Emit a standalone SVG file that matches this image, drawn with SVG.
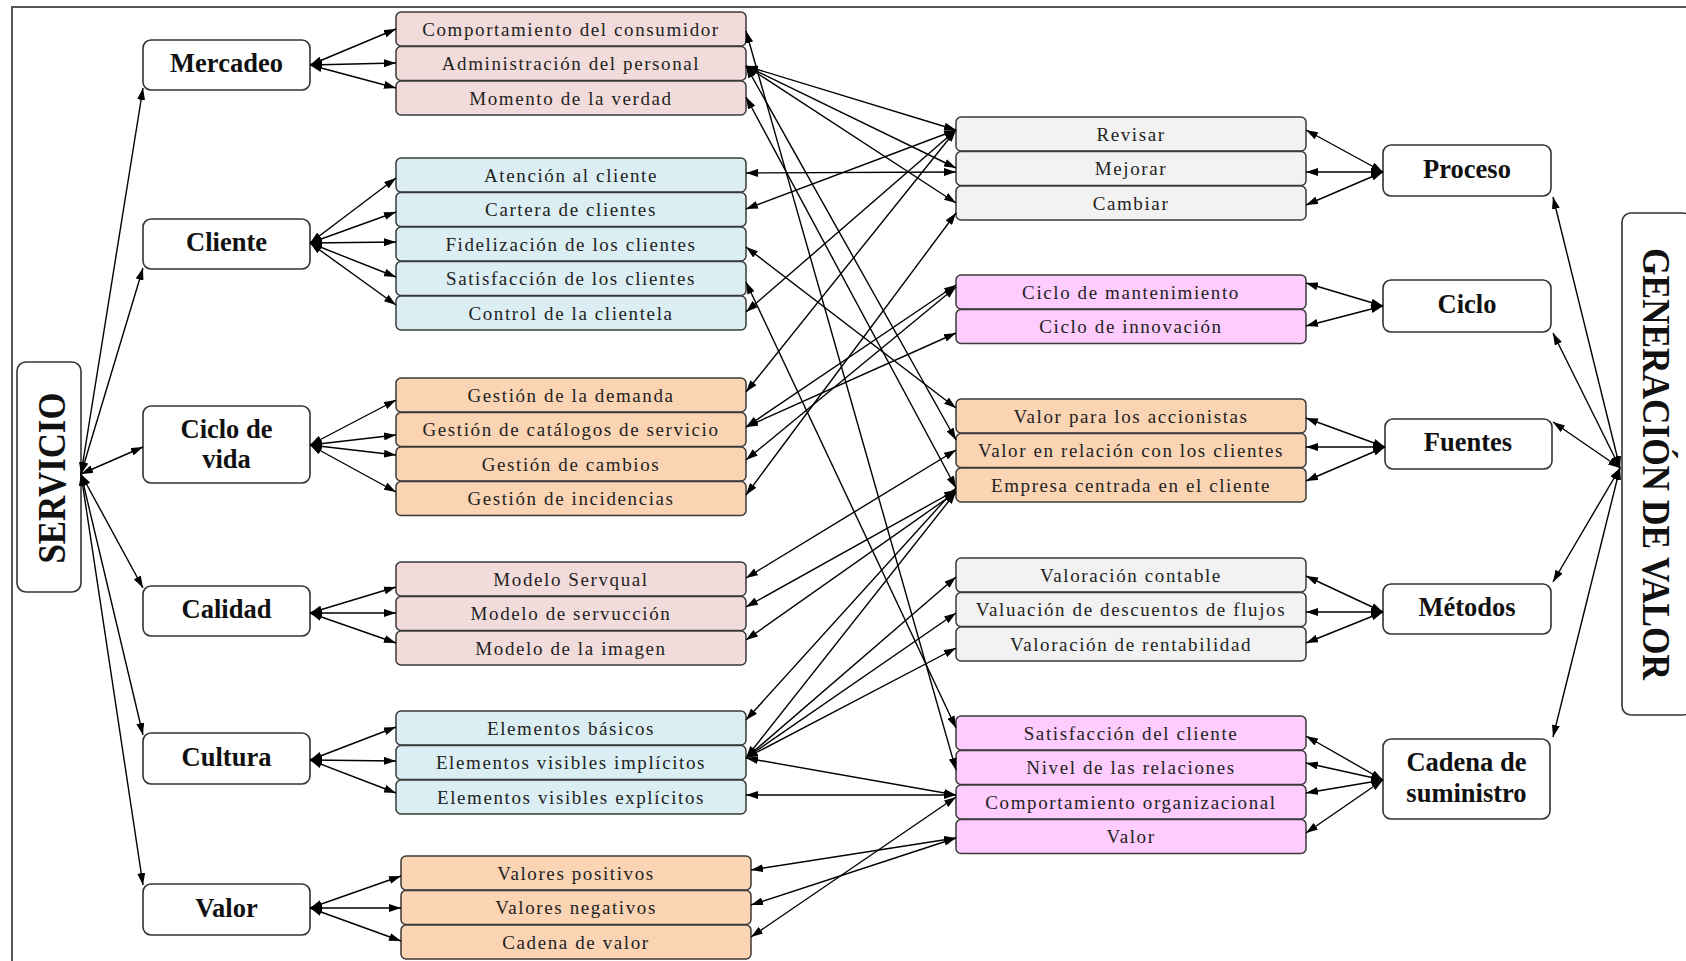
<svg xmlns="http://www.w3.org/2000/svg" width="1686" height="961" viewBox="0 0 1686 961">
  <style>
    .frame { fill: none; stroke: #555; stroke-width: 2; }
    .main { fill: #fff; stroke: #333; stroke-width: 1.6; }
    .row { stroke: #3a3a3a; stroke-width: 1.5; }
    .pink { fill: #f2dcdb; }
    .blue { fill: #daeef3; }
    .orange { fill: #fbd4b4; }
    .gray { fill: #f2f2f2; }
    .mag { fill: #ffccff; }
    .lbl { font-family: "Liberation Serif", "Times New Roman", serif; font-size: 19px; letter-spacing: 1.6px; fill: #222; text-anchor: middle; }
    .head { font-family: "Liberation Serif", "Times New Roman", serif; font-size: 26.5px; font-weight: bold; fill: #111; text-anchor: middle; }
    .big { font-family: "Liberation Serif", "Times New Roman", serif; font-size: 40px; font-weight: bold; fill: #111; text-anchor: middle; }
    .links line { stroke: #000; stroke-width: 1.4; marker-start: url(#ah); marker-end: url(#ah); }
  </style>
  <defs>
    <marker id="ah" viewBox="0 0 12 8" refX="12" refY="4" markerWidth="12" markerHeight="8" markerUnits="userSpaceOnUse" orient="auto-start-reverse">
      <path d="M0,0 L12,4 L0,8 z" fill="#000"/>
    </marker>
  </defs>

  <rect class="frame" x="12" y="7" width="1700" height="1000"/>

  <!-- outer blocks -->
  <g id="servicio">
    <rect class="main" x="17" y="362" width="64" height="230" rx="9"/>
    <text class="big" transform="translate(65,478) rotate(-90)" textLength="171" lengthAdjust="spacingAndGlyphs">SERVICIO</text>
  </g>
  <g id="generacion">
    <rect class="main" x="1622" y="213" width="70" height="502" rx="9"/>
    <text class="big" transform="translate(1643,464) rotate(90)" textLength="432" lengthAdjust="spacingAndGlyphs">GENERACIÓN DE VALOR</text>
  </g>

  <!-- service dimensions -->
  <g id="mercadeo"><rect class="main" x="143" y="40" width="167" height="50" rx="8"/><text class="head" x="226.5" y="72">Mercadeo</text></g>
  <g id="cliente"><rect class="main" x="143" y="219" width="167" height="50" rx="8"/><text class="head" x="226.5" y="251">Cliente</text></g>
  <g id="ciclo-vida"><rect class="main" x="143" y="406" width="167" height="77" rx="8"/><text class="head" x="226.5" y="438">Ciclo de</text><text class="head" x="226.5" y="468">vida</text></g>
  <g id="calidad"><rect class="main" x="143" y="586" width="167" height="50" rx="8"/><text class="head" x="226.5" y="618">Calidad</text></g>
  <g id="cultura"><rect class="main" x="143" y="733" width="167" height="51" rx="8"/><text class="head" x="226.5" y="766">Cultura</text></g>
  <g id="valor"><rect class="main" x="143" y="884" width="167" height="51" rx="8"/><text class="head" x="226.5" y="917">Valor</text></g>

  <!-- value dimensions -->
  <g id="proceso"><rect class="main" x="1383" y="145" width="168" height="51" rx="8"/><text class="head" x="1467" y="178">Proceso</text></g>
  <g id="ciclo"><rect class="main" x="1383" y="280" width="168" height="52" rx="8"/><text class="head" x="1467" y="313">Ciclo</text></g>
  <g id="fuentes"><rect class="main" x="1385" y="419" width="167" height="50" rx="8"/><text class="head" x="1468" y="451">Fuentes</text></g>
  <g id="metodos"><rect class="main" x="1383" y="584" width="168" height="50" rx="8"/><text class="head" x="1467" y="616">Métodos</text></g>
  <g id="cadena"><rect class="main" x="1383" y="739" width="167" height="80" rx="8"/><text class="head" x="1466.5" y="771">Cadena de</text><text class="head" x="1466.5" y="802">suministro</text></g>

  <!-- Mercadeo items -->
  <g id="m-items">
    <rect class="row pink" x="396" y="12" width="350" height="34" rx="5"/><text class="lbl" x="571" y="35.5">Comportamiento del consumidor</text>
    <rect class="row pink" x="396" y="46.5" width="350" height="34" rx="5"/><text class="lbl" x="571" y="70">Administración del personal</text>
    <rect class="row pink" x="396" y="81" width="350" height="34" rx="5"/><text class="lbl" x="571" y="104.5">Momento de la verdad</text>
  </g>
  <!-- Cliente items -->
  <g id="c-items">
    <rect class="row blue" x="396" y="158" width="350" height="34" rx="5"/><text class="lbl" x="571" y="181.5">Atención al cliente</text>
    <rect class="row blue" x="396" y="192.5" width="350" height="34" rx="5"/><text class="lbl" x="571" y="216">Cartera de clientes</text>
    <rect class="row blue" x="396" y="227" width="350" height="34" rx="5"/><text class="lbl" x="571" y="250.5">Fidelización de los clientes</text>
    <rect class="row blue" x="396" y="261.5" width="350" height="34" rx="5"/><text class="lbl" x="571" y="285">Satisfacción de los clientes</text>
    <rect class="row blue" x="396" y="296" width="350" height="34" rx="5"/><text class="lbl" x="571" y="319.5">Control de la clientela</text>
  </g>
  <!-- Ciclo de vida items -->
  <g id="cv-items">
    <rect class="row orange" x="396" y="378" width="350" height="34" rx="5"/><text class="lbl" x="571" y="401.5">Gestión de la demanda</text>
    <rect class="row orange" x="396" y="412.5" width="350" height="34" rx="5"/><text class="lbl" x="571" y="436">Gestión de catálogos de servicio</text>
    <rect class="row orange" x="396" y="447" width="350" height="34" rx="5"/><text class="lbl" x="571" y="470.5">Gestión de cambios</text>
    <rect class="row orange" x="396" y="481.5" width="350" height="34" rx="5"/><text class="lbl" x="571" y="505">Gestión de incidencias</text>
  </g>
  <!-- Calidad items -->
  <g id="ca-items">
    <rect class="row pink" x="396" y="562" width="350" height="34" rx="5"/><text class="lbl" x="571" y="585.5">Modelo Servqual</text>
    <rect class="row pink" x="396" y="596.5" width="350" height="34" rx="5"/><text class="lbl" x="571" y="620">Modelo de servucción</text>
    <rect class="row pink" x="396" y="631" width="350" height="34" rx="5"/><text class="lbl" x="571" y="654.5">Modelo de la imagen</text>
  </g>
  <!-- Cultura items -->
  <g id="cu-items">
    <rect class="row blue" x="396" y="711" width="350" height="34" rx="5"/><text class="lbl" x="571" y="734.5">Elementos básicos</text>
    <rect class="row blue" x="396" y="745.5" width="350" height="34" rx="5"/><text class="lbl" x="571" y="769">Elementos visibles implícitos</text>
    <rect class="row blue" x="396" y="780" width="350" height="34" rx="5"/><text class="lbl" x="571" y="803.5">Elementos visibles explícitos</text>
  </g>
  <!-- Valor items -->
  <g id="v-items">
    <rect class="row orange" x="401" y="856" width="350" height="34" rx="5"/><text class="lbl" x="576" y="879.5">Valores positivos</text>
    <rect class="row orange" x="401" y="890.5" width="350" height="34" rx="5"/><text class="lbl" x="576" y="914">Valores negativos</text>
    <rect class="row orange" x="401" y="925" width="350" height="34" rx="5"/><text class="lbl" x="576" y="948.5">Cadena de valor</text>
  </g>

  <!-- Proceso items -->
  <g id="p-items">
    <rect class="row gray" x="956" y="117" width="350" height="34" rx="5"/><text class="lbl" x="1131" y="140.5">Revisar</text>
    <rect class="row gray" x="956" y="151.5" width="350" height="34" rx="5"/><text class="lbl" x="1131" y="175">Mejorar</text>
    <rect class="row gray" x="956" y="186" width="350" height="34" rx="5"/><text class="lbl" x="1131" y="209.5">Cambiar</text>
  </g>
  <!-- Ciclo items -->
  <g id="ci-items">
    <rect class="row mag" x="956" y="275" width="350" height="34" rx="5"/><text class="lbl" x="1131" y="298.5">Ciclo de mantenimiento</text>
    <rect class="row mag" x="956" y="309.5" width="350" height="34" rx="5"/><text class="lbl" x="1131" y="333">Ciclo de innovación</text>
  </g>
  <!-- Fuentes items -->
  <g id="f-items">
    <rect class="row orange" x="956" y="399" width="350" height="34" rx="5"/><text class="lbl" x="1131" y="422.5">Valor para los accionistas</text>
    <rect class="row orange" x="956" y="433.5" width="350" height="34" rx="5"/><text class="lbl" x="1131" y="457">Valor en relación con los clientes</text>
    <rect class="row orange" x="956" y="468" width="350" height="34" rx="5"/><text class="lbl" x="1131" y="491.5">Empresa centrada en el cliente</text>
  </g>
  <!-- Métodos items -->
  <g id="me-items">
    <rect class="row gray" x="956" y="558" width="350" height="34" rx="5"/><text class="lbl" x="1131" y="581.5">Valoración contable</text>
    <rect class="row gray" x="956" y="592.5" width="350" height="34" rx="5"/><text class="lbl" x="1131" y="616">Valuación de descuentos de flujos</text>
    <rect class="row gray" x="956" y="627" width="350" height="34" rx="5"/><text class="lbl" x="1131" y="650.5">Valoración de rentabilidad</text>
  </g>
  <!-- Cadena de suministro items -->
  <g id="cs-items">
    <rect class="row mag" x="956" y="716" width="350" height="34" rx="5"/><text class="lbl" x="1131" y="739.5">Satisfacción del cliente</text>
    <rect class="row mag" x="956" y="750.5" width="350" height="34" rx="5"/><text class="lbl" x="1131" y="774">Nivel de las relaciones</text>
    <rect class="row mag" x="956" y="785" width="350" height="34" rx="5"/><text class="lbl" x="1131" y="808.5">Comportamiento organizacional</text>
    <rect class="row mag" x="956" y="819.5" width="350" height="34" rx="5"/><text class="lbl" x="1131" y="843">Valor</text>
  </g>

  <!-- connectors -->
  <g class="links" id="connectors">
    <!-- SERVICIO to its dimensions -->
    <line x1="81" y1="474" x2="143" y2="88"/>
    <line x1="81" y1="474" x2="143" y2="268"/>
    <line x1="81" y1="474" x2="143" y2="447"/>
    <line x1="81" y1="474" x2="143" y2="588"/>
    <line x1="81" y1="474" x2="143" y2="735"/>
    <line x1="81" y1="474" x2="143" y2="885"/>
    <!-- dimensions to items -->
    <line x1="310" y1="65" x2="396" y2="29"/>
    <line x1="310" y1="65" x2="396" y2="63"/>
    <line x1="310" y1="65" x2="396" y2="88"/>
    <line x1="310" y1="243" x2="396" y2="178"/>
    <line x1="310" y1="243" x2="396" y2="212"/>
    <line x1="310" y1="243" x2="396" y2="242"/>
    <line x1="310" y1="243" x2="396" y2="277"/>
    <line x1="310" y1="243" x2="396" y2="305"/>
    <line x1="310" y1="445" x2="396" y2="400"/>
    <line x1="310" y1="445" x2="396" y2="435"/>
    <line x1="310" y1="445" x2="396" y2="455"/>
    <line x1="310" y1="445" x2="396" y2="492"/>
    <line x1="310" y1="613" x2="396" y2="587"/>
    <line x1="310" y1="613" x2="396" y2="613"/>
    <line x1="310" y1="613" x2="396" y2="643"/>
    <line x1="310" y1="760" x2="396" y2="727"/>
    <line x1="310" y1="760" x2="396" y2="761"/>
    <line x1="310" y1="760" x2="396" y2="793"/>
    <line x1="310" y1="908" x2="401" y2="876"/>
    <line x1="310" y1="908" x2="401" y2="908"/>
    <line x1="310" y1="908" x2="401" y2="941"/>
    <!-- GENERACIÓN DE VALOR to its dimensions -->
    <line x1="1620" y1="468" x2="1553" y2="197"/>
    <line x1="1620" y1="468" x2="1553" y2="333"/>
    <line x1="1620" y1="468" x2="1553" y2="422"/>
    <line x1="1620" y1="468" x2="1553" y2="582"/>
    <line x1="1620" y1="468" x2="1553" y2="737"/>
    <!-- value dimensions to items -->
    <line x1="1383" y1="172" x2="1306" y2="130"/>
    <line x1="1383" y1="172" x2="1306" y2="172"/>
    <line x1="1383" y1="172" x2="1306" y2="205"/>
    <line x1="1383" y1="306" x2="1306" y2="283"/>
    <line x1="1383" y1="306" x2="1306" y2="326"/>
    <line x1="1385" y1="447" x2="1306" y2="418"/>
    <line x1="1385" y1="447" x2="1306" y2="447"/>
    <line x1="1385" y1="447" x2="1306" y2="481"/>
    <line x1="1383" y1="612" x2="1306" y2="576"/>
    <line x1="1383" y1="612" x2="1306" y2="612"/>
    <line x1="1383" y1="612" x2="1306" y2="643"/>
    <line x1="1383" y1="780" x2="1306" y2="736"/>
    <line x1="1383" y1="780" x2="1306" y2="763"/>
    <line x1="1383" y1="780" x2="1306" y2="793"/>
    <line x1="1383" y1="780" x2="1306" y2="833"/>
    <!-- service items to value items -->
    <line x1="746" y1="31" x2="956" y2="770"/>
    <line x1="746" y1="66" x2="956" y2="130"/>
    <line x1="746" y1="66" x2="956" y2="168"/>
    <line x1="746" y1="66" x2="956" y2="203"/>
    <line x1="746" y1="66" x2="956" y2="440"/>
    <line x1="746" y1="97" x2="956" y2="488"/>
    <line x1="746" y1="173" x2="956" y2="172"/>
    <line x1="746" y1="209" x2="956" y2="130"/>
    <line x1="746" y1="247" x2="956" y2="408"/>
    <line x1="746" y1="282" x2="956" y2="728"/>
    <line x1="746" y1="312" x2="956" y2="130"/>
    <line x1="746" y1="392" x2="956" y2="130"/>
    <line x1="746" y1="427" x2="956" y2="285"/>
    <line x1="746" y1="427" x2="956" y2="333"/>
    <line x1="746" y1="460" x2="956" y2="287"/>
    <line x1="746" y1="495" x2="956" y2="213"/>
    <line x1="746" y1="578" x2="956" y2="450"/>
    <line x1="746" y1="607" x2="956" y2="490"/>
    <line x1="746" y1="640" x2="956" y2="492"/>
    <line x1="746" y1="720" x2="956" y2="488"/>
    <line x1="746" y1="758" x2="956" y2="492"/>
    <line x1="746" y1="758" x2="956" y2="577"/>
    <line x1="746" y1="758" x2="956" y2="613"/>
    <line x1="746" y1="758" x2="956" y2="648"/>
    <line x1="746" y1="758" x2="956" y2="795"/>
    <line x1="746" y1="795" x2="956" y2="795"/>
    <line x1="751" y1="870" x2="956" y2="838"/>
    <line x1="751" y1="905" x2="956" y2="838"/>
    <line x1="751" y1="937" x2="956" y2="797"/>
  </g>
</svg>
